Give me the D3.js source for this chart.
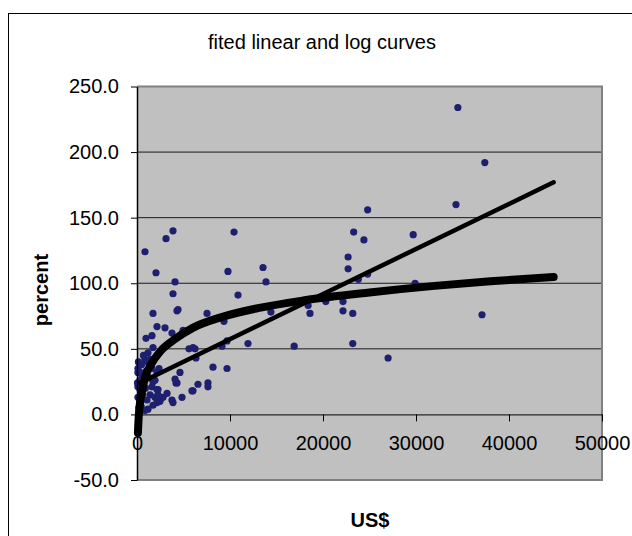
<!DOCTYPE html>
<meta charset="utf-8">
<style>
body { margin: 0; background: #fff; }
text { font-family: "Liberation Sans", Arial, sans-serif; fill: #000; }
.axis path, .axis line { stroke: #000; }
</style>
<svg width="632" height="536"></svg>
<script src="https://d3js.org/d3.v7.min.js"></script>
<script>

// scatter: income (US$) vs percent
var incomes = [34500, 37400, 34300, 29700, 29900, 37100, 27000, 24800, 24400, 23300,
  22700, 22700, 23800, 24800, 18400, 18600, 20300, 22150, 22150, 23200,
  16900, 23200, 10430, 3120, 3870, 860, 2040, 4090, 3870, 9780,
  13550, 13870, 10860, 4300, 4410, 1720, 7530, 14400, 9350, 2150,
  3010, 3760, 4950, 1610, 970, 1720, 5590, 6240, 1180, 860,
  1180, 100, 320, 4620, 2150, 650, 1720, 4090, 4300, 50,
  1610, 2150, 5910, 3230, 1400, 1935, 3760, 4840, 1075, 1720,
  1180, 860, 320, 100, 320, 200, 2470, 2800, 2260, 100,
  100, 1400, 9680, 11935, 9140, 6020, 6340, 8170, 9680, 6020,
  6560, 7630, 7630, 3870, 4190, 1610, 2370, 1935, 2260, 2150,
  540, 500, 700, 300, 600, 900, 1300, 450, 1000, 150, 250];
var percents = [234, 192, 160, 137, 100, 76, 43, 156, 133, 139,
  120, 111, 103, 107, 83, 77, 86, 86, 79, 77,
  52, 54, 139, 134, 140, 124, 108, 101, 92, 109,
  112, 101, 91, 79, 80, 77, 77, 78, 71, 67,
  66, 62, 64, 60, 58, 51, 50, 50, 47, 42,
  40, 35, 32, 32, 32, 28, 25, 27, 24, 24,
  21, 19, 18, 16, 15, 13, 11, 13, 11, 7,
  4, 3, 19, 13, 9, 5, 10, 13, 15, 32,
  21, 42, 56, 54, 52, 51, 43, 36, 35, 18,
  23, 24, 21, 9, 24, 35, 35, 26, 19, 9,
  28, 38, 45, 26, 15, 20, 28, 6, 33, 40, 2];

// fitted curves
var linX = [300, 44800];
var linY = [24, 177];
var logX = [100, 150, 250, 400, 600, 900, 1500, 2500, 4000, 6000, 9000, 13000, 18000, 25000, 32000, 38000, 44800];
var logY = [-14, -6, 4, 13, 20, 29, 38, 48, 57, 66, 74, 81, 87, 93, 98, 101.5, 104.8];

var yTicks = [-50, 0, 50, 100, 150, 200, 250];
var xTicks = [0, 10000, 20000, 30000, 40000, 50000];

var svg = d3.select("svg");

svg.append("rect")
    .attr("x", 8.5).attr("y", 13.5)
    .attr("width", 700).attr("height", 600)
    .attr("fill", "none").attr("stroke", "#000");

svg.append("text")
    .attr("x", 322).attr("y", 49)
    .attr("text-anchor", "middle")
    .style("font-size", "20px")
    .text("fited linear and log curves");

var x = d3.scaleLinear().domain([0, 50000]).range([137, 602]);
var y = d3.scaleLinear().domain([-50, 250]).range([480, 86.5]);

svg.append("rect")
    .attr("x", x(0)).attr("y", y(250))
    .attr("width", x(50000) - x(0)).attr("height", y(-50) - y(250))
    .attr("fill", "#c0c0c0");

// gridlines
svg.append("g").selectAll("line")
  .data([50, 100, 150, 200])
  .enter().append("line")
    .attr("x1", x(0)).attr("x2", x(50000))
    .attr("y1", function(d) { return y(d); })
    .attr("y2", function(d) { return y(d); })
    .attr("stroke", "#1a1a1a");

// plot border (top, right, bottom)
svg.append("path")
    .attr("d", "M" + x(0) + "," + y(250) + "H" + x(50000) + "V" + y(-50) + "H" + x(0))
    .attr("fill", "none").attr("stroke", "#808080").attr("stroke-width", 2);

// points
svg.append("g").selectAll("circle")
  .data(incomes.map(function(d, i) { return [d, percents[i]]; }))
  .enter().append("circle")
    .attr("cx", function(d) { return x(d[0]); })
    .attr("cy", function(d) { return y(d[1]); })
    .attr("r", 3.6)
    .attr("fill", "#1f1f70");

// linear fit
svg.append("path")
    .datum(linX.map(function(d, i) { return [d, linY[i]]; }))
    .attr("fill", "none").attr("stroke", "#000")
    .attr("stroke-width", 4.5).attr("stroke-linecap", "round")
    .attr("d", d3.line().x(function(d) { return x(d[0]); }).y(function(d) { return y(d[1]); }));

// log fit
svg.append("path")
    .datum(logX.map(function(d, i) { return [d, logY[i]]; }))
    .attr("fill", "none").attr("stroke", "#000")
    .attr("stroke-width", 8).attr("stroke-linecap", "round")
    .attr("d", d3.line().curve(d3.curveMonotoneX)
      .x(function(d) { return x(d[0]); }).y(function(d) { return y(d[1]); }));

// axes
var fmt = d3.format(".1f");
svg.append("g")
    .attr("class", "axis")
    .attr("transform", "translate(" + x(0) + ",0)")
    .call(d3.axisLeft(y).tickValues(yTicks)
      .tickFormat(function(d) { return fmt(d).replace("\u2212", "-"); })
      .tickSize(6).tickPadding(12).tickSizeOuter(0))
    .call(function(g) {
      g.select(".domain").attr("stroke-width", 1.5);
      g.selectAll("text").style("font-size", "20px").attr("fill", "#000");
    });

svg.append("g")
    .attr("class", "axis")
    .attr("transform", "translate(0," + y(0) + ")")
    .call(d3.axisBottom(x).tickValues(xTicks).tickFormat(d3.format("d"))
      .tickSize(7).tickPadding(14).tickSizeOuter(0))
    .call(function(g) {
      g.selectAll("text").style("font-size", "20px").attr("fill", "#000");
    });

svg.append("text")
    .attr("transform", "translate(48,290) rotate(-90)")
    .attr("text-anchor", "middle")
    .style("font-size", "20px").style("font-weight", "bold")
    .text("percent");

svg.append("text")
    .attr("x", 370).attr("y", 527)
    .attr("text-anchor", "middle")
    .style("font-size", "20px").style("font-weight", "bold")
    .text("US$");

</script>
